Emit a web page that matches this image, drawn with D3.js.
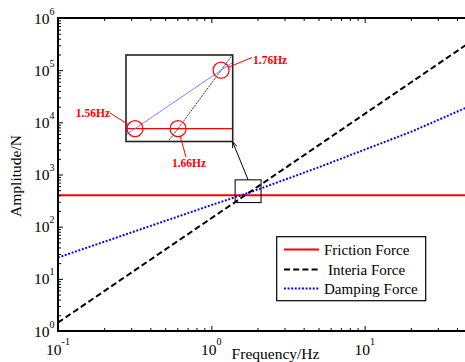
<!DOCTYPE html>
<html>
<head>
<meta charset="utf-8">
<script src="https://cdn.jsdelivr.net/npm/d3@7"></script>
<style>
  body { margin: 0; background: #fff; }
  svg { display: block; }
  text { font-family: "Liberation Serif", "Times New Roman", serif; fill: #000; }
</style>
</head>
<body>
<svg id="chart" width="465" height="362"></svg>
<script>
// Force amplitudes (N) against excitation frequency (Hz)
const frequency     = [0.1, 0.2, 0.5, 1, 1.5, 1.56, 1.66, 1.76, 1.8, 2, 5, 10, 20, 50];
const frictionForce = [400, 400, 400, 400, 400, 400, 400, 400, 400, 400, 400, 400, 400, 400];
const inertiaForce  = [1.45, 5.8, 36.3, 145, 326, 353, 400, 450, 470, 580, 3625, 14500, 58000, 362500];
const dampingForce  = [25.6, 51.3, 129, 259, 385, 400, 425, 450, 460, 512, 1370, 3000, 6550, 21300];

const seriesNames  = ["Friction Force", "Interia Force", "Damping Force"];
const seriesColors = ["#ff0000", "#000000", "#0000ff"];
const seriesDash   = [null, "6,3.2", "1.9,1.7"];

// Crossing points highlighted in the magnified view
const crossingFreq   = [1.56, 1.66, 1.76];
const crossingForce  = [400, 400, 450];
const crossingLabels = ["1.56Hz", "1.66Hz", "1.76Hz"];

// Region of the main plot that the magnified view refers to
const zoomFreq  = [1.43, 2.11];
const zoomForce = [290, 790];

// Tick decades (the x axis runs on to 10^2, past the visible edge)
const xMajorTicks = [0.1, 1, 10];
const xTickExp    = ["-1", "0", "1"];
const yMajorTicks = [1, 10, 100, 1000, 10000, 100000, 1000000];
const yTickExp    = ["0", "1", "2", "3", "4", "5", "6"];

const svg = d3.select("#chart");
const pLeft = 58, pRight = 518, pTop = 18, pBottom = 331;

const x = d3.scaleLog().domain([0.1, 100]).range([pLeft, pRight]);
const y = d3.scaleLog().domain([1, 1e6]).range([pBottom, pTop]);

const allSeries = [frictionForce, inertiaForce, dampingForce];

svg.append("clipPath").attr("id", "plotClip")
  .append("rect").attr("x", pLeft).attr("y", pTop)
  .attr("width", pRight - pLeft).attr("height", pBottom - pTop);

// Data lines
const line = d3.line().x((d, i) => x(frequency[i])).y(d => y(d));
const plot = svg.append("g").attr("clip-path", "url(#plotClip)");
allSeries.forEach((s, k) => {
  plot.append("path")
    .attr("d", line(s))
    .attr("fill", "none")
    .attr("stroke", seriesColors[k])
    .attr("stroke-width", 2)
    .attr("stroke-dasharray", seriesDash[k]);
});

// Axes with inward ticks
const xMinor = x.ticks().filter(v => !xMajorTicks.concat([100]).some(m => Math.abs(m - v) < 1e-9));
const yMinor = y.ticks().filter(v => !yMajorTicks.some(m => Math.abs(m - v) < 1e-9));

function addAxis(gen, transform) {
  const g = svg.append("g").attr("transform", transform).call(gen);
  g.select(".domain").remove();
  g.selectAll(".tick line").attr("stroke", "#000").attr("stroke-width", 1);
  return g;
}
addAxis(d3.axisBottom(x).tickValues(xMajorTicks).tickSizeInner(-5).tickSizeOuter(0).tickFormat(""), `translate(0,${pBottom})`);
addAxis(d3.axisBottom(x).tickValues(xMinor).tickSizeInner(-3).tickSizeOuter(0).tickFormat(""), `translate(0,${pBottom})`);
addAxis(d3.axisTop(x).tickValues(xMajorTicks).tickSizeInner(-5).tickSizeOuter(0).tickFormat(""), `translate(0,${pTop})`);
addAxis(d3.axisTop(x).tickValues(xMinor).tickSizeInner(-3).tickSizeOuter(0).tickFormat(""), `translate(0,${pTop})`);
addAxis(d3.axisLeft(y).tickValues(yMajorTicks).tickSizeInner(-5).tickSizeOuter(0).tickFormat(""), `translate(${pLeft},0)`);
addAxis(d3.axisLeft(y).tickValues(yMinor).tickSizeInner(-3).tickSizeOuter(0).tickFormat(""), `translate(${pLeft},0)`);

// Frame
svg.append("path")
  .attr("d", `M${pRight},${pTop}H${pLeft}V${pBottom}H${pRight}`)
  .attr("fill", "none").attr("stroke", "#000").attr("stroke-width", 2);

// Tick labels: powers of ten
yMajorTicks.forEach((v, i) => {
  const t = svg.append("text").attr("x", 34).attr("y", y(v) + 5.5).attr("font-size", 15.5);
  t.append("tspan").text("10");
  t.append("tspan").attr("dy", -9).attr("font-size", 10).text(yTickExp[i]);
});
xMajorTicks.forEach((v, i) => {
  const t = svg.append("text").attr("x", x(v)).attr("y", 355)
    .attr("text-anchor", "middle").attr("font-size", 15.5);
  t.append("tspan").text("10");
  t.append("tspan").attr("dy", -10).attr("font-size", 10).text(xTickExp[i]);
});

// Axis titles
svg.append("text").attr("x", 275.5).attr("y", 359)
  .attr("text-anchor", "middle").attr("font-size", 15.5).text("Frequency/Hz");
svg.append("text").attr("transform", "translate(21,176) rotate(-90)")
  .attr("text-anchor", "middle").attr("font-size", 15.5).text("Amplitude/N");

// Legend
const lg = svg.append("g");
lg.append("rect").attr("x", 276.7).attr("y", 236.7).attr("width", 149).attr("height", 64)
  .attr("fill", "#fff").attr("stroke", "#000").attr("stroke-width", 1.2);
const rowY = [249.5, 269.5, 288.5];
const textDx = [0, 4, 0];
seriesNames.forEach((name, k) => {
  lg.append("line").attr("x1", 284).attr("x2", 319).attr("y1", rowY[k]).attr("y2", rowY[k])
    .attr("stroke", seriesColors[k]).attr("stroke-width", 2)
    .attr("stroke-dasharray", seriesDash[k]);
  lg.append("text").attr("x", 324 + textDx[k]).attr("y", rowY[k] + 5)
    .attr("font-size", 15).text(name);
});

// Box marking the magnified region
const zx0 = x(zoomFreq[0]), zx1 = x(zoomFreq[1]);
const zy0 = y(zoomForce[1]), zy1 = y(zoomForce[0]);
svg.append("rect").attr("x", zx0).attr("y", zy0).attr("width", zx1 - zx0).attr("height", zy1 - zy0)
  .attr("fill", "none").attr("stroke", "#111").attr("stroke-width", 1.1);

// Magnified view (linear axes)
const ix0 = 126, ix1 = 232.7, iy0 = 55, iy1 = 141.5;
const xi = d3.scaleLinear().domain([1.539, 1.787]).range([ix0, ix1]);
const yi = d3.scaleLinear().domain([389, 463]).range([iy1, iy0]);

// Arrow from the marked region to the magnified view
const ax0 = (zx0 + zx1) / 2, ay0 = zy0, ax1 = ix1, ay1 = iy1 + 0.5;
svg.append("line").attr("x1", ax0).attr("y1", ay0).attr("x2", ax1).attr("y2", ay1)
  .attr("stroke", "#000").attr("stroke-width", 1);
const ang = Math.atan2(ay1 - ay0, ax1 - ax0);
const head = 6, spread = 0.4;
svg.append("path")
  .attr("d", `M${ax1 - head * Math.cos(ang - spread)},${ay1 - head * Math.sin(ang - spread)}L${ax1},${ay1}L${ax1 - head * Math.cos(ang + spread)},${ay1 - head * Math.sin(ang + spread)}`)
  .attr("fill", "none").attr("stroke", "#000").attr("stroke-width", 1);

svg.append("clipPath").attr("id", "insetClip")
  .append("rect").attr("x", ix0).attr("y", iy0).attr("width", ix1 - ix0).attr("height", iy1 - iy0);
svg.append("rect").attr("x", ix0).attr("y", iy0).attr("width", ix1 - ix0).attr("height", iy1 - iy0)
  .attr("fill", "#fff");

const near = frequency.map((f, i) => i).filter(i => frequency[i] >= 1.5 && frequency[i] <= 2);
const insetLine = d3.line().x(i => xi(frequency[i]));
const insetG = svg.append("g").attr("clip-path", "url(#insetClip)");
const insetColors = ["#ff0000", "#333333", "#8080ff"];
const insetWidths = [1.4, 1, 1];
const insetDash = [null, "2,1", null];
allSeries.forEach((s, k) => {
  insetG.append("path")
    .attr("d", insetLine.y(i => yi(s[i]))(near))
    .attr("fill", "none").attr("stroke", insetColors[k])
    .attr("stroke-width", insetWidths[k]).attr("stroke-dasharray", insetDash[k]);
});
svg.append("rect").attr("x", ix0).attr("y", iy0).attr("width", ix1 - ix0).attr("height", iy1 - iy0)
  .attr("fill", "none").attr("stroke", "#222").attr("stroke-width", 1.6);

// Crossing markers and their labels
const r = 8;
const labelPos = [[110, 117, "end"], [189, 167, "middle"], [253, 64, "start"]];
const leaderFrom = [[110, 113], [186, 157], [252, 57.5]];
crossingFreq.forEach((f, i) => {
  const cx = xi(f), cy = yi(crossingForce[i]);
  svg.append("circle").attr("cx", cx).attr("cy", cy).attr("r", r)
    .attr("fill", "none").attr("stroke", "#ff0000").attr("stroke-width", 1.2);
  const [lx, ly] = leaderFrom[i];
  const d = Math.hypot(cx - lx, cy - ly);
  svg.append("line").attr("x1", lx).attr("y1", ly)
    .attr("x2", cx - (cx - lx) * r / d).attr("y2", cy - (cy - ly) * r / d)
    .attr("stroke", "#ff0000").attr("stroke-width", 1);
  svg.append("text").attr("x", labelPos[i][0]).attr("y", labelPos[i][1])
    .attr("text-anchor", labelPos[i][2]).attr("font-size", 11.5).attr("font-weight", "bold")
    .style("fill", "#ff0000").text(crossingLabels[i]);
});
</script>
</body>
</html>
